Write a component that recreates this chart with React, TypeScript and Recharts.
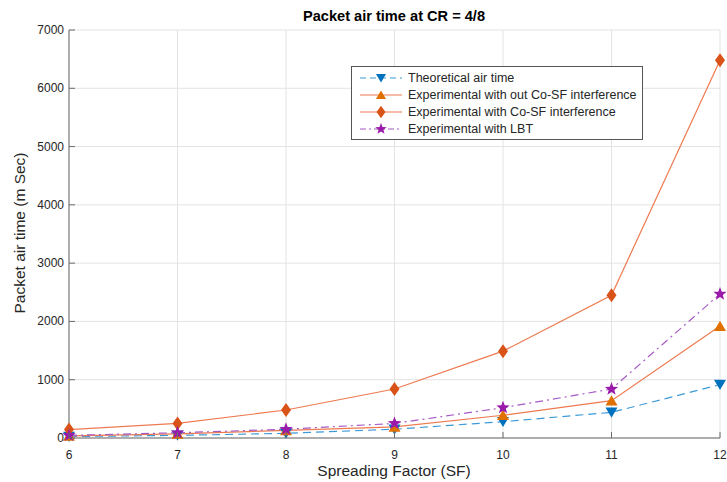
import React from "react"
import { CartesianGrid, Line, LineChart, XAxis, YAxis } from "recharts"

const spreadingFactors = [6, 7, 8, 9, 10, 11, 12]
const theoretical = [25, 45, 80, 150, 280, 440, 915]
const withoutCoSF = [35, 70, 130, 190, 390, 640, 1920]
const withCoSF = [145, 250, 480, 840, 1490, 2450, 6480]
const withLBT = [45, 90, 150, 250, 520, 840, 2470]
const xTicks = [6, 7, 8, 9, 10, 11, 12]
const yTicks = [0, 1000, 2000, 3000, 4000, 5000, 6000, 7000]

const data = spreadingFactors.map((sf, i) => ({
  sf,
  theoretical: theoretical[i],
  withoutCoSF: withoutCoSF[i],
  withCoSF: withCoSF[i],
  withLBT: withLBT[i],
}))

const W = 727
const H = 482
const LEFT = 69
const RIGHT = 720
const TOP = 30
const BOTTOM = 438
const TICK = 6
const AXIS = "#6a6a6a"
const TEXT = "#262626"
const FONT = "'Liberation Sans', Arial, sans-serif"

const BLUE = "#0072BD"
const BLUE_LINE = "#3d9ad8"
const ORANGE = "#E07000"
const RED = "#D95319"
const ORANGE_LINE = "#EE7A50"
const PURPLE = "#9A1AAA"
const PURPLE_LINE = "#A65BC4"

function TriDown({ cx, cy, fill, size = 6 }: any) {
  return <path d={`M${cx - size},${cy - size * 0.8} L${cx + size},${cy - size * 0.8} L${cx},${cy + size * 0.9} Z`} fill={fill} />
}
function TriUp({ cx, cy, fill, size = 6 }: any) {
  return <path d={`M${cx - size},${cy + size * 0.8} L${cx + size},${cy + size * 0.8} L${cx},${cy - size * 0.9} Z`} fill={fill} />
}
function Diamond({ cx, cy, fill, size = 5 }: any) {
  return <path d={`M${cx},${cy - size * 1.4} L${cx + size},${cy} L${cx},${cy + size * 1.4} L${cx - size},${cy} Z`} fill={fill} />
}
function Star({ cx, cy, fill, size = 7 }: any) {
  const pts: string[] = []
  for (let i = 0; i < 10; i++) {
    const r = i % 2 === 0 ? size : size * 0.42
    const a = -Math.PI / 2 + (i * Math.PI) / 5
    pts.push(`${cx + r * Math.cos(a)},${cy + r * Math.sin(a)}`)
  }
  return <polygon points={pts.join(" ")} fill={fill} />
}

const dot = (Shape: any, fill: string) => (p: any) => <Shape key={p.index} cx={p.cx} cy={p.cy} fill={fill} />

function LeftTick({ y, payload }: any) {
  return (
    <g>
      <text x={LEFT - 5} y={y} dy={4} textAnchor="end" fontSize={12} fill={TEXT} fontFamily={FONT}>{payload.value}</text>
      <line x1={LEFT} x2={LEFT + TICK} y1={y} y2={y} stroke={AXIS} />
    </g>
  )
}
function RightTick({ y }: any) {
  return <line x1={RIGHT - TICK} x2={RIGHT} y1={y} y2={y} stroke={AXIS} />
}
function BottomTick({ x, payload }: any) {
  return (
    <g>
      <text x={x} y={BOTTOM + 21} textAnchor="middle" fontSize={12} fill={TEXT} fontFamily={FONT}>{payload.value}</text>
      <line x1={x} x2={x} y1={BOTTOM} y2={BOTTOM - TICK} stroke={AXIS} />
    </g>
  )
}
function TopTick({ x }: any) {
  return <line x1={x} x2={x} y1={TOP} y2={TOP + TICK} stroke={AXIS} />
}

const legendItems = [
  { label: "Theoretical air time", color: BLUE_LINE, marker: BLUE, Shape: TriDown, dash: "6 4", size: 5 },
  { label: "Experimental with out Co-SF interference", color: ORANGE_LINE, marker: ORANGE, Shape: TriUp, dash: undefined, size: 5 },
  { label: "Experimental with Co-SF interference", color: ORANGE_LINE, marker: RED, Shape: Diamond, dash: undefined, size: 4.5 },
  { label: "Experimental with LBT", color: PURPLE_LINE, marker: PURPLE, Shape: Star, dash: "6 3 2 3", size: 6 },
]

function LegendBox() {
  return (
    <div style={{ position: "absolute", left: 351, top: 66, background: "#fff", border: "1px solid #555", padding: "2px 6px 2px 8px", fontFamily: FONT, fontSize: 12.5, color: TEXT, width: 276, whiteSpace: "nowrap" }}>
      {legendItems.map((it) => (
        <div key={it.label} style={{ display: "flex", alignItems: "center", height: 17 }}>
          <svg width={44} height={14} style={{ marginRight: 4, flexShrink: 0 }}>
            <line x1={0} x2={42} y1={7} y2={7} stroke={it.color} strokeWidth={1.2} strokeDasharray={it.dash} />
            <it.Shape cx={21} cy={7} fill={it.marker} size={it.size} />
          </svg>
          <span>{it.label}</span>
        </div>
      ))}
    </div>
  )
}

export default function App() {
  return (
    <div style={{ position: "absolute", left: 0, top: 0, width: W, height: H, background: "#fff", fontFamily: FONT }}>
      <div style={{ position: "absolute", left: 0, top: 0 }}>
        <LineChart width={W} height={H} data={data} margin={{ top: TOP, right: W - RIGHT, left: 0, bottom: 0 }}>
          <CartesianGrid stroke="#e3e3e3" strokeWidth={1} />
          <XAxis dataKey="sf" type="number" domain={[6, 12]} ticks={xTicks} height={H - BOTTOM} tick={<BottomTick />} tickLine={false} axisLine={{ stroke: AXIS }} interval={0} />
          <XAxis xAxisId="top" orientation="top" dataKey="sf" type="number" domain={[6, 12]} ticks={xTicks} height={0} tick={<TopTick />} tickLine={false} axisLine={{ stroke: AXIS }} interval={0} />
          <YAxis type="number" domain={[0, 7000]} ticks={yTicks} width={LEFT} tick={<LeftTick />} tickLine={false} axisLine={{ stroke: AXIS }} interval={0} />
          <YAxis yAxisId="right" orientation="right" type="number" domain={[0, 7000]} ticks={yTicks} width={0} tick={<RightTick />} tickLine={false} axisLine={{ stroke: AXIS }} interval={0} />
          <Line dataKey="theoretical" stroke={BLUE_LINE} strokeWidth={1.2} strokeDasharray="8 5" dot={dot(TriDown, BLUE)} isAnimationActive={false} />
          <Line dataKey="withoutCoSF" stroke={ORANGE_LINE} strokeWidth={1.2} dot={dot(TriUp, ORANGE)} isAnimationActive={false} />
          <Line dataKey="withCoSF" stroke={ORANGE_LINE} strokeWidth={1.2} dot={dot(Diamond, RED)} isAnimationActive={false} />
          <Line dataKey="withLBT" stroke={PURPLE_LINE} strokeWidth={1.2} strokeDasharray="8 4 2 4" dot={dot(Star, PURPLE)} isAnimationActive={false} />
        </LineChart>
      </div>
      <div style={{ position: "absolute", left: 394 - 200, width: 400, top: 8, textAlign: "center", fontSize: 14.6, fontWeight: "bold", color: "#000" }}>
        Packet air time at CR = 4/8
      </div>
      <div style={{ position: "absolute", left: 394 - 150, width: 300, top: 462, textAlign: "center", fontSize: 15.5, color: TEXT }}>
        Spreading Factor (SF)
      </div>
      <div style={{ position: "absolute", left: 20 - 150, top: (TOP + BOTTOM) / 2 - 10, width: 300, textAlign: "center", transform: "rotate(-90deg)", fontSize: 15.5, color: TEXT }}>
        Packet air time (m Sec)
      </div>
      <LegendBox />
    </div>
  )
}
